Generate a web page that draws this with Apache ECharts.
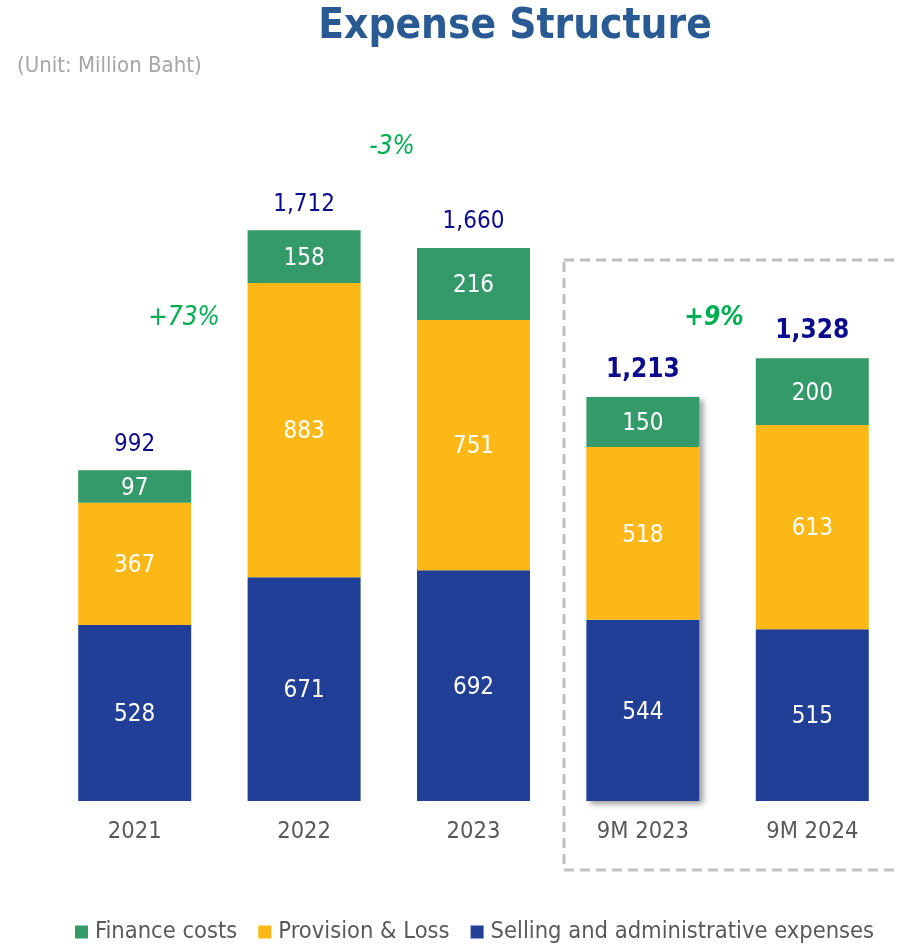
<!DOCTYPE html>
<html>
<head>
<meta charset="utf-8">
<script src="https://cdn.jsdelivr.net/npm/echarts@6/dist/echarts.min.js"></script>
<style>
  html, body { margin: 0; padding: 0; background: #fff; }
  #chart { width: 897px; height: 945px; }
</style>
</head>
<body>
<div id="chart"></div>
<script>
const categories = ['2021', '2022', '2023', '9M 2023', '9M 2024'];
const sellingAdmin = [528, 671, 692, 544, 515];
const provisionLoss = [367, 883, 751, 518, 613];
const financeCosts = [97, 158, 216, 150, 200];
const totals = ['992', '1,712', '1,660', '1,213', '1,328'];
const boldTotals = [false, false, false, true, true];
const shadowed = [false, false, false, true, false];
const growthLabels = [
    { text: '+73%', x: 184, y: 318, bold: false },
    { text: '-3%', x: 392, y: 147, bold: false },
    { text: '+9%', x: 714, y: 318, bold: true }
];

const FONT = "'DejaVu Sans Condensed', 'DejaVu Sans', sans-serif";
const BLUE = '#213F96';
const YELLOW = '#FBB817';
const GREEN = '#359A69';

const chart = echarts.init(document.getElementById('chart'), null, { renderer: 'canvas' });

const segLabel = {
    show: true,
    position: 'inside',
    color: '#fff',
    fontSize: 24,
    offset: [0, 2],
    fontFamily: FONT
};

// full-height bar behind the stack, only there to cast the drop shadow
const shadowData = sellingAdmin.map((v, i) =>
    shadowed[i] ? v + provisionLoss[i] + financeCosts[i] : null);

const option = {
    animation: false,
    backgroundColor: '#fff',
    title: [
        {
            text: 'Expense Structure',
            left: 510,
            top: 1,
            textAlign: 'center',
            textStyle: { color: '#2A5A94', fontSize: 42, fontWeight: 'bold', fontFamily: FONT }
        },
        {
            text: '(Unit: Million Baht)',
            left: 12,
            top: 50,
            textStyle: { color: '#A6A6A6', fontSize: 22, fontWeight: 'normal', fontFamily: FONT }
        }
    ],
    grid: { left: 50, width: 850, top: 134.3, bottom: 144 },
    legend: {
        data: ['Finance costs', 'Provision & Loss', 'Selling and administrative expenses'],
        left: 70,
        top: 915,
        itemWidth: 13,
        itemHeight: 13,
        itemGap: 21,
        icon: 'rect',
        textStyle: { color: '#595959', fontSize: 23.5, fontFamily: FONT, padding: [0, 0, 0, 2] }
    },
    xAxis: {
        type: 'category',
        data: categories,
        axisLine: { show: false },
        axisTick: { show: false },
        axisLabel: { color: '#595959', fontSize: 23.5, margin: 19, fontFamily: FONT }
    },
    yAxis: {
        type: 'value',
        min: 0,
        max: 2000,
        show: false,
        splitLine: { show: false }
    },
    series: [
        {
            name: 'Shadow',
            type: 'bar',
            barWidth: 113,
            barGap: '-100%',
            z: 1,
            silent: true,
            itemStyle: {
                color: '#fff',
                shadowColor: 'rgba(0,0,0,0.4)',
                shadowBlur: 6,
                shadowOffsetX: 4,
                shadowOffsetY: 3
            },
            data: shadowData
        },
        {
            name: 'Selling and administrative expenses',
            type: 'bar',
            stack: 'total',
            barWidth: 113,
            z: 3,
            itemStyle: { color: BLUE },
            label: segLabel,
            data: sellingAdmin
        },
        {
            name: 'Provision & Loss',
            type: 'bar',
            stack: 'total',
            z: 3,
            itemStyle: { color: YELLOW },
            label: segLabel,
            data: provisionLoss
        },
        {
            name: 'Finance costs',
            type: 'bar',
            stack: 'total',
            z: 3,
            itemStyle: { color: GREEN },
            label: segLabel,
            data: financeCosts
        },
        {
            name: 'Total',
            type: 'bar',
            stack: 'total',
            z: 3,
            itemStyle: { color: 'transparent' },
            label: {
                show: true,
                position: 'top',
                distance: 14,
                color: '#0B0B8F',
                fontSize: 24,
                fontFamily: FONT,
                formatter: p => totals[p.dataIndex]
            },
            data: totals.map((t, i) => ({
                value: 0,
                label: boldTotals[i] ? { fontWeight: 'bold', fontSize: 26 } : {}
            }))
        }
    ],
    graphic: [
        {
            type: 'rect',
            silent: true,
            shape: { x: 564, y: 260, width: 340, height: 610 },
            style: { fill: 'none', stroke: '#BFBFBF', lineWidth: 3, lineDash: [10, 6] }
        },
        ...growthLabels.map(g => ({
            type: 'text',
            x: g.x,
            y: g.y,
            style: {
                text: g.text,
                fill: '#00B050',
                font: (g.bold ? 'italic bold ' : 'italic ') + '26px ' + FONT,
                textAlign: 'center',
                textVerticalAlign: 'middle'
            }
        }))
    ]
};

chart.setOption(option);
</script>
</body>
</html>
